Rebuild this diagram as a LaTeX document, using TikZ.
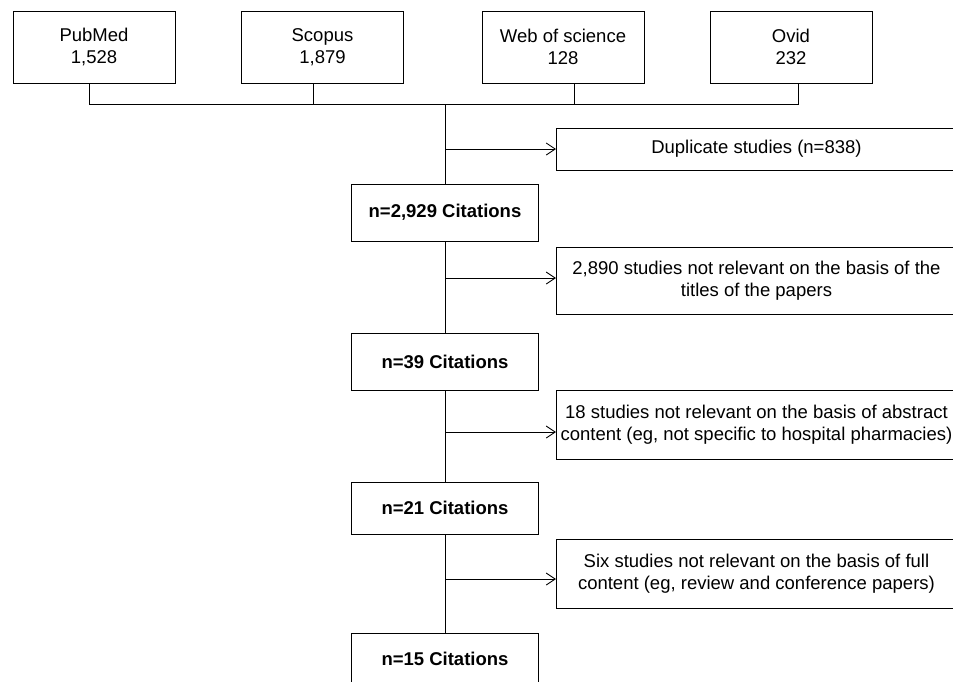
\documentclass[tikz,border=0pt]{standalone}
\usepackage{fontspec}
\setmainfont{Liberation Sans}
\usetikzlibrary{arrows.meta}
\begin{document}
\begin{tikzpicture}[x=1pt,y=-1pt,line width=0.9pt,
  txt/.style={font=\fontsize{18.5}{22}\selectfont},
  box/.style={draw,inner sep=0pt,align=center,txt},
  srcbox/.style={box,minimum width=162pt,minimum height=72pt},
  mainbox/.style={box,minimum width=187pt,font=\bfseries\fontsize{18.5}{22}\selectfont},
  sidebox/.style={box,minimum width=400pt,anchor=west},
  arr/.style={-{Straight Barb[length=9pt,width=12pt]}}]
\useasboundingbox (0,0) rectangle (953,681);
\clip (0,0) rectangle (953,681);
% sources
\node[srcbox] (pub) at (94,47) {PubMed\\1,528};
\node[srcbox] (sco) at (322.5,47) {Scopus\\1,879};
\node[srcbox] (wos) at (563,47) {Web of science\\128};
\node[srcbox] (ovid) at (791,47) {Ovid\\232};
% main column
\node[mainbox,minimum height=57pt] (c1) at (445,212.5) {n=2,929 Citations};
\node[mainbox,minimum height=57pt] (c2) at (445,361.5) {n=39 Citations};
\node[mainbox,minimum height=52pt] (c3) at (445,508) {n=21 Citations};
\node[mainbox,minimum height=52pt] (c4) at (445,659) {n=15 Citations};
% side boxes
\node[sidebox,minimum height=42pt] (e1) at (556,149) {Duplicate studies (n=838)};
\node[sidebox,minimum height=67pt] (e2) at (556,280.5) {2,890 studies not relevant on the basis of the\\titles of the papers};
\node[sidebox,minimum height=69pt] (e3) at (556,424.5) {18 studies not relevant on the basis of abstract\\content (eg, not specific to hospital pharmacies)};
\node[sidebox,minimum height=69pt] (e4) at (556,573.5) {Six studies not relevant on the basis of full\\content (eg, review and conference papers)};
% bus
\coordinate (s1) at (89,104);
\coordinate (s2) at (313,104);
\coordinate (s3) at (574,104);
\coordinate (s4) at (798,104);
\coordinate (j0) at (445,104);
\draw (pub.south -| s1) -- (s1) -- (s4) -- (ovid.south -| s4);
\draw (sco.south -| s2) -- (s2);
\draw (wos.south -| s3) -- (s3);
\draw (j0) -- (c1.north);
\draw (c1.south) -- (c2.north);
\draw (c2.south) -- (c3.north);
\draw (c3.south) -- (c4.north);
% exclusion arrows
\coordinate (a1) at (445,149);
\coordinate (a2) at (445,278);
\coordinate (a3) at (445,432);
\coordinate (a4) at (445,579);
\draw[arr] (a1) -- (a1 -| e1.west);
\draw[arr] (a2) -- (a2 -| e2.west);
\draw[arr] (a3) -- (a3 -| e3.west);
\draw[arr] (a4) -- (a4 -| e4.west);
\end{tikzpicture}
\end{document}
